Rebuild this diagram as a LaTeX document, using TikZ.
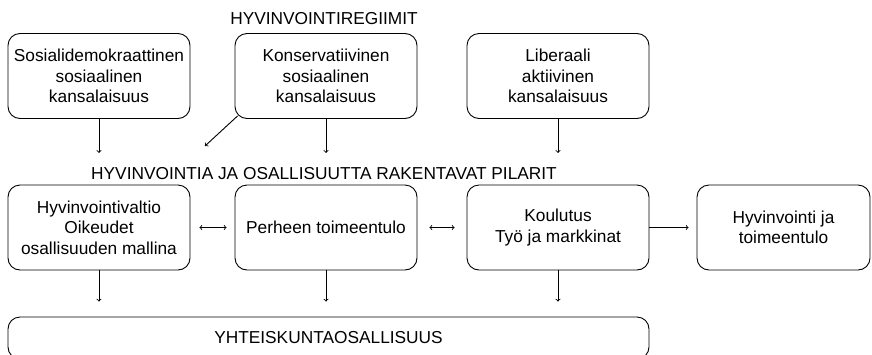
\documentclass[tikz,border=0pt]{standalone}
\usepackage{fontspec}
\setmainfont{Liberation Sans}
\tikzset{x=1pt, y=-1pt, every node/.append style={font=\fontsize{17.3}{20.5}\selectfont},
    pillar/.style={draw, rounded corners=12pt, minimum width=182pt, minimum height=85pt, align=center, inner sep=2pt}}

\begin{document}
\begin{tikzpicture}[line width=0.9pt]
                \useasboundingbox (0,0) rectangle (872,354);
                \clip (0,0) rectangle (872,354);
                % regiimit
                \node (regiimit) at (324,18.5) {HYVINVOINTIREGIIMIT};
                \node[pillar] (sosdem) at (99,76) {Sosialidemokraattinen\\sosiaalinen\\kansalaisuus};
                \node[pillar] (konserv) at (326,76) {Konservatiivinen\\sosiaalinen\\kansalaisuus};
                \node[pillar] (liber) at (558,76) {Liberaali\\aktiivinen\\kansalaisuus};
                \node[inner ysep=14pt] (pilarit) at (324,173.5) {HYVINVOINTIA JA OSALLISUUTTA RAKENTAVAT PILARIT};
                \coordinate (vino) at (205,146);
                \foreach \n in {sosdem, konserv, liber}
                    \draw[->] (\n) -- (\n |- pilarit.north);
                \draw[->] ([shift={(3,-3)}]konserv.south west) -- (vino);
                % pilarit
                \node[pillar] (valtio) at (99,227.5) {Hyvinvointivaltio\\Oikeudet\\osallisuuden mallina};
                \node[pillar] (perhe) at (326,227.5) {Perheen toimeentulo};
                \node[pillar] (koulutus) at (558,227.5) {Koulutus\\Työ ja markkinat};
                \node[pillar, minimum width=173pt] (tulos) at (783.5,227.5) {Hyvinvointi ja\\toimeentulo};
                \node[draw, rounded corners=12pt, minimum width=641pt, minimum height=42pt] (osallisuus) at (328.5,338) {YHTEISKUNTAOSALLISUUS};
                \draw[<->, shorten <=9pt, shorten >=8pt] (valtio) -- (perhe);
                \draw[<->, shorten <=12pt, shorten >=12pt] (perhe) -- (koulutus);
                \draw[->, shorten >=8pt] (koulutus) -- (tulos);
                \foreach \n in {valtio, perhe, koulutus}
                    \draw[->, shorten >=15pt] (\n) -- (\n |- osallisuus.north);
            \end{tikzpicture}
\end{document}
